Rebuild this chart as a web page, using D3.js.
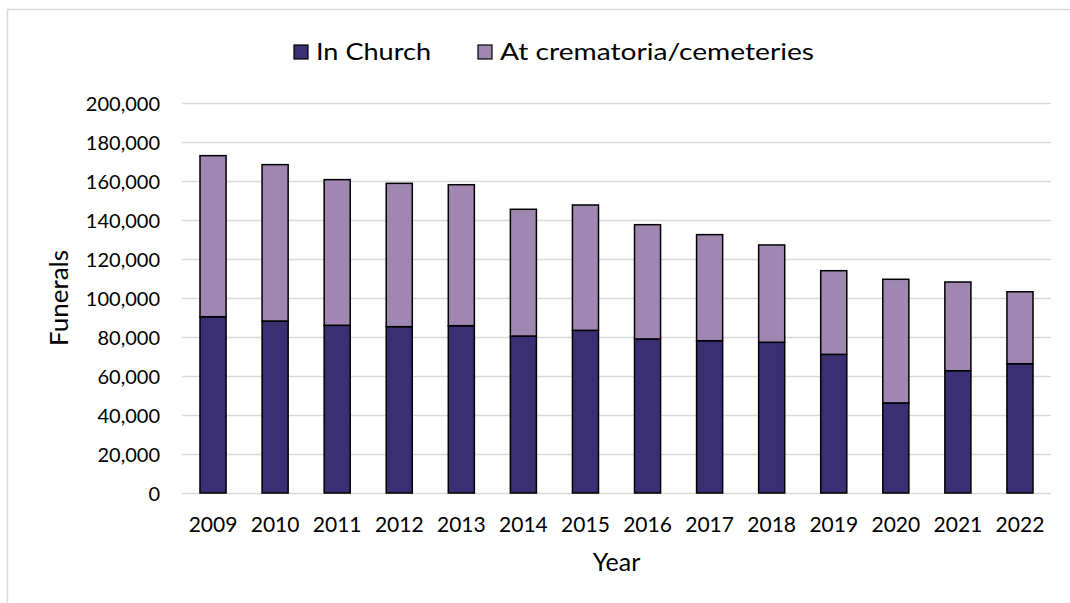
<!DOCTYPE html>
<html>
<head>
<meta charset="utf-8">
<script src="https://cdn.jsdelivr.net/npm/d3@7"></script>
<style>
  html, body { margin: 0; padding: 0; background: #ffffff; }
  svg { display: block; font-family: Lato, "Open Sans", sans-serif; }
</style>
</head>
<body>
<svg id="chart" width="1070" height="603"></svg>
<script>
// ---- data ----
const years = ["2009","2010","2011","2012","2013","2014","2015","2016","2017","2018","2019","2020","2021","2022"];
const inChurch = [90400, 88200, 86000, 85300, 85800, 80500, 83400, 79000, 78100, 77300, 71100, 46200, 62700, 66300];
const atCrematoria = [82600, 80200, 74700, 73500, 72300, 65000, 64300, 58600, 54400, 49900, 42900, 63400, 45500, 36900];
const seriesNames = ["In Church", "At crematoria/cemeteries"];
const yTicks = [0, 20000, 40000, 60000, 80000, 100000, 120000, 140000, 160000, 180000, 200000];

// ---- layout ----
const W = 1070, H = 603;
const plotL = 182, plotR = 1051, plotT = 103, plotB = 493;
const colors = ["#392f72", "#9f87b2"];
const gridColor = "#d9d9d9";

const svg = d3.select("#chart");
svg.append("rect").attr("width", W).attr("height", H).attr("fill", "#fff");

// chart frame (extends beyond the visible area on right and bottom)
svg.append("rect")
  .attr("x", 7.5).attr("y", 9.5)
  .attr("width", 1200).attr("height", 800)
  .attr("fill", "none").attr("stroke", gridColor).attr("stroke-width", 1.5);

const x = d3.scaleBand().domain(years).range([plotL, plotR]).paddingInner(0.58).paddingOuter(0.29);
const y = d3.scaleLinear().domain([0, 200000]).range([plotB, plotT]);

// gridlines + y tick labels
const yAxis = d3.axisLeft(y).tickValues(yTicks).tickFormat(d3.format(",")).tickSize(-(plotR - plotL)).tickPadding(22);
const gy = svg.append("g").attr("transform", `translate(${plotL},0)`).call(yAxis);
gy.select(".domain").remove();
gy.selectAll(".tick line").attr("stroke", gridColor).attr("stroke-width", 1.5);
gy.selectAll(".tick text").attr("fill", "#000").style("font-size", "20px").attr("font-family", "Lato").attr("dy", "0.35em");

// stacked data
const data = years.map((yr, i) => ({ year: yr, church: inChurch[i], crem: atCrematoria[i] }));
const stack = d3.stack().keys(["church", "crem"]);
const layers = stack(data);

svg.append("g").selectAll("g").data(layers).join("g")
  .attr("fill", (d, i) => colors[i])
  .selectAll("rect").data(d => d).join("rect")
  .attr("x", d => x(d.data.year))
  .attr("width", x.bandwidth())
  .attr("y", d => y(d[1]))
  .attr("height", d => y(d[0]) - y(d[1]))
  .attr("stroke", "#000").attr("stroke-width", 1.5);

// x axis labels
const xAxis = d3.axisBottom(x).tickSize(0).tickPadding(0);
const gx = svg.append("g").attr("transform", `translate(0,${plotB})`).call(xAxis);
gx.select(".domain").remove();
gx.selectAll(".tick text").attr("fill", "#000").style("font-size", "21px").attr("font-family", "Lato")
  .attr("dy", null).attr("y", 39);

// axis titles
svg.append("text").attr("x", (plotL + plotR) / 2).attr("y", 571)
  .attr("text-anchor", "middle").style("font-size", "25px").text("Year");
svg.append("text").attr("transform", `translate(68,${(plotT + plotB) / 2}) rotate(-90)`)
  .attr("text-anchor", "middle").style("font-size", "25px")
  .attr("textLength", 96).attr("lengthAdjust", "spacingAndGlyphs").text("Funerals");

// legend
const legendX = [294, 478];
const legendLen = [115, 314];
const leg = svg.append("g");
seriesNames.forEach((name, i) => {
  leg.append("rect").attr("x", legendX[i]).attr("y", 45).attr("width", 14).attr("height", 14)
    .attr("fill", colors[i]).attr("stroke", "#000").attr("stroke-width", 1.2);
  leg.append("text").attr("x", legendX[i] + 22).attr("y", 60)
    .style("font-size", "24px")
    .attr("textLength", legendLen[i]).attr("lengthAdjust", "spacingAndGlyphs").text(name);
});
</script>
</body>
</html>
